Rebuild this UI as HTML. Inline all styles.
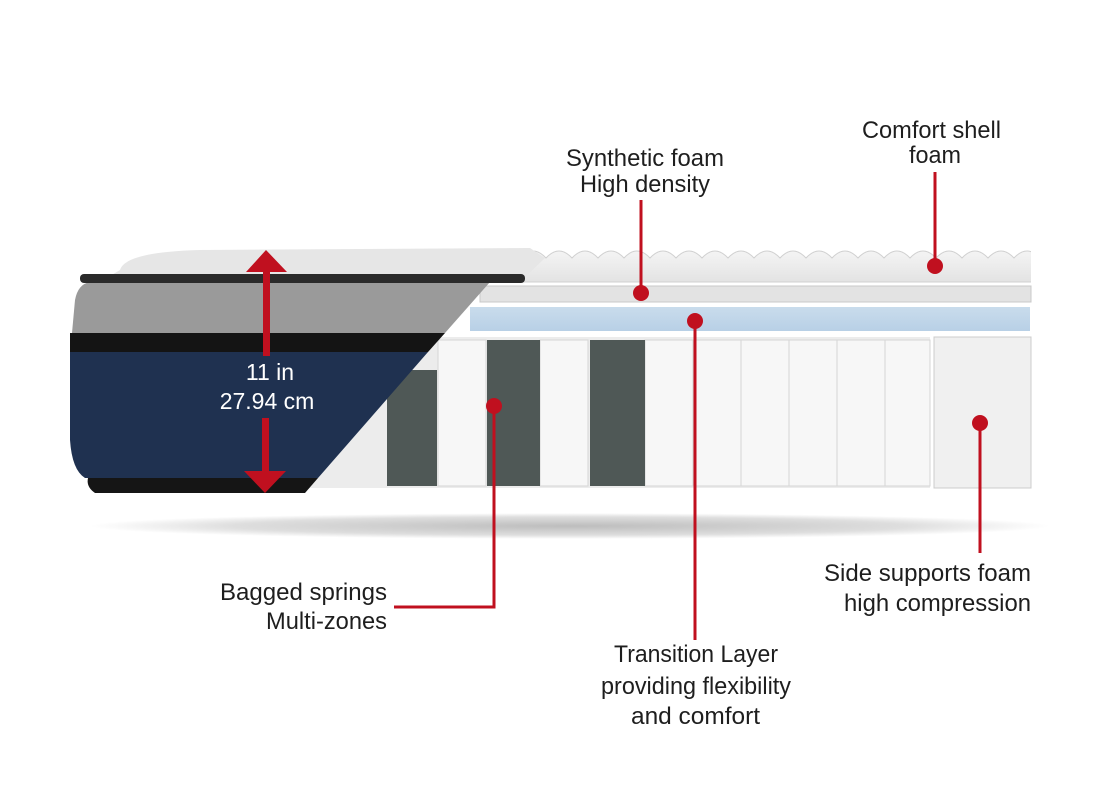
<!DOCTYPE html>
<html><head><meta charset="utf-8"><style>html,body{margin:0;padding:0;background:#fff}svg{display:block}text{font-family:"Liberation Sans",sans-serif;fill:#1e1e1e;font-size:24px}</style></head><body>
<svg width="1120" height="800" viewBox="0 0 1120 800" xmlns="http://www.w3.org/2000/svg">
<defs>
<radialGradient id="sh" cx="0.5" cy="0.5" r="0.5"><stop offset="0" stop-color="#bdbdbd"/><stop offset="0.7" stop-color="#dedede"/><stop offset="1" stop-color="#fff"/></radialGradient>
<linearGradient id="blue" x1="0" y1="0" x2="0" y2="1"><stop offset="0" stop-color="#c9dcec"/><stop offset="1" stop-color="#b8d0e6"/></linearGradient>
<linearGradient id="foam" x1="0" y1="0" x2="0" y2="1"><stop offset="0" stop-color="#f4f4f4"/><stop offset="1" stop-color="#e3e3e3"/></linearGradient>
<clipPath id="fc"><rect x="500" y="240" width="531" height="50"/></clipPath>
</defs>
<ellipse cx="570" cy="526" rx="480" ry="13" fill="url(#sh)"/>
<g clip-path="url(#fc)">
<path d="M520 258 q13 -14 26 0 q13 -14 26 0 q13 -14 26 0 q13 -14 26 0 q13 -14 26 0 q13 -14 26 0 q13 -14 26 0 q13 -14 26 0 q13 -14 26 0 q13 -14 26 0 q13 -14 26 0 q13 -14 26 0 q13 -14 26 0 q13 -14 26 0 q13 -14 26 0 q13 -14 26 0 q13 -14 26 0 q13 -14 26 0 q13 -14 26 0 q13 -14 26 0 q13 -14 26 0 L1031 282 L520 282 Z" fill="url(#foam)" stroke="#d0d0d0"/>
</g>
<rect x="480" y="286" width="551" height="16" fill="#e3e3e3" stroke="#c8c8c8"/>
<rect x="470" y="307" width="560" height="24" fill="url(#blue)"/>
<rect x="300" y="337" width="630" height="151" fill="#ececec"/>
<g fill="#f7f7f7" stroke="#d6d6d6">
<rect x="438" y="340" width="48" height="146"/><rect x="540" y="340" width="48" height="146"/><rect x="645" y="340" width="48" height="146"/><rect x="693" y="340" width="48" height="146"/><rect x="741" y="340" width="48" height="146"/><rect x="789" y="340" width="48" height="146"/><rect x="837" y="340" width="48" height="146"/><rect x="885" y="340" width="45" height="146"/>
</g>
<g fill="#4f5856"><rect x="387" y="370" width="50" height="116"/><rect x="487" y="340" width="53" height="146"/><rect x="590" y="340" width="55" height="146"/></g>
<rect x="934" y="337" width="97" height="151" fill="#f0f0f0" stroke="#ccc"/>
<path d="M120 270 Q125 252 200 250 L530 248 L545 258 L520 282 L100 282 Z" fill="#e6e6e6"/>
<path d="M75 300 Q78 284 90 282 L490 282 L445 333 L72 333 Z" fill="#9a9a9a"/>
<rect x="80" y="274" width="445" height="9" rx="4" fill="#2a2a2a"/>
<path d="M70 333 L445 333 L428 352 L70 352 Z" fill="#141414"/>
<path d="M70 352 L428 352 L318 478 L85 478 Q72 470 70 440 Z" fill="#1f3150"/>
<path d="M88 478 L318 478 L305 493 L95 493 Q86 487 88 478 Z" fill="#151515"/>
<g fill="#c0101f"><rect x="263" y="270" width="7" height="86"/><polygon points="246,272 287,272 266,250"/><rect x="262" y="418" width="7" height="55"/><polygon points="244,471 286,471 265,493"/></g>
<text x="270" y="380" text-anchor="middle" style="fill:#fff;font-size:23px">11 in</text>
<text x="267" y="409" text-anchor="middle" style="fill:#fff;font-size:23px">27.94 cm</text>
<g stroke="#c0101f" stroke-width="3" fill="none">
<path d="M935 172 V266"/><path d="M641 200 V293"/><path d="M695 321 V640"/><path d="M494 406 V607 H394"/><path d="M980 423 V553"/>
</g>
<g fill="#c0101f"><circle cx="935" cy="266" r="8"/><circle cx="641" cy="293" r="8"/><circle cx="695" cy="321" r="8"/><circle cx="494" cy="406" r="8"/><circle cx="980" cy="423" r="8"/></g>
<g>
<text x="862" y="138" textLength="139" lengthAdjust="spacingAndGlyphs">Comfort shell</text>
<text x="909" y="163" textLength="52" lengthAdjust="spacingAndGlyphs">foam</text>
<text x="566" y="166" textLength="158" lengthAdjust="spacingAndGlyphs">Synthetic foam</text>
<text x="580" y="192" textLength="130" lengthAdjust="spacingAndGlyphs">High density</text>
<text x="220" y="600" textLength="167" lengthAdjust="spacingAndGlyphs">Bagged springs</text>
<text x="266" y="629" textLength="121" lengthAdjust="spacingAndGlyphs">Multi-zones</text>
<text x="824" y="581" textLength="207" lengthAdjust="spacingAndGlyphs">Side supports foam</text>
<text x="844" y="611" textLength="187" lengthAdjust="spacingAndGlyphs">high compression</text>
<text x="614" y="662" textLength="164" lengthAdjust="spacingAndGlyphs">Transition Layer</text>
<text x="601" y="694" textLength="190" lengthAdjust="spacingAndGlyphs">providing flexibility</text>
<text x="631" y="724" textLength="129" lengthAdjust="spacingAndGlyphs">and comfort</text>
</g>
</svg>
</body></html>
